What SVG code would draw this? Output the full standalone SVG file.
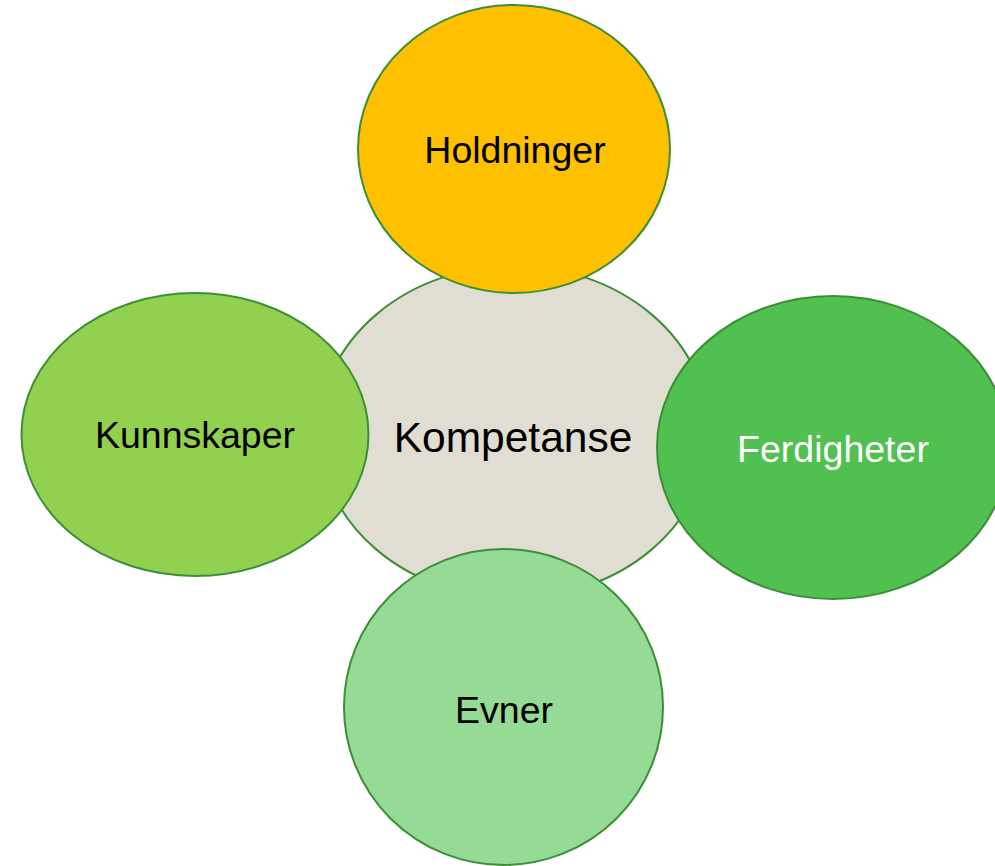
<svg xmlns="http://www.w3.org/2000/svg" width="995" height="866" viewBox="0 0 995 866">
  <style>
    .shape { stroke: #3d8f36; stroke-width: 2; }
    .label { font-family: "Liberation Sans", Arial, sans-serif; font-size: 37.5px; text-anchor: middle; fill: #000000; }
  </style>
  <rect x="0" y="0" width="995" height="866" fill="#ffffff"/>

  <g id="kompetanse">
    <ellipse class="shape" cx="514" cy="432" rx="195" ry="166" fill="#e0ddd2"/>
    <text class="label" x="513" y="452" style="font-size:42.5px">Kompetanse</text>
  </g>

  <g id="holdninger">
    <ellipse class="shape" cx="514" cy="149" rx="156" ry="144" fill="#ffc000"/>
    <text class="label" x="515" y="163">Holdninger</text>
  </g>

  <g id="kunnskaper">
    <ellipse class="shape" cx="195" cy="434.5" rx="173.5" ry="141.5" fill="#92d050"/>
    <text class="label" x="195" y="448">Kunnskaper</text>
  </g>

  <g id="ferdigheter">
    <ellipse class="shape" cx="833" cy="447.5" rx="176" ry="151.5" fill="#50c150"/>
    <text class="label" x="833" y="462" style="fill:#ffffff">Ferdigheter</text>
  </g>

  <g id="evner">
    <ellipse class="shape" cx="503.5" cy="707" rx="159.5" ry="158" fill="#95da95"/>
    <text class="label" x="504" y="723">Evner</text>
  </g>

  <g id="connectors"></g>
</svg>
